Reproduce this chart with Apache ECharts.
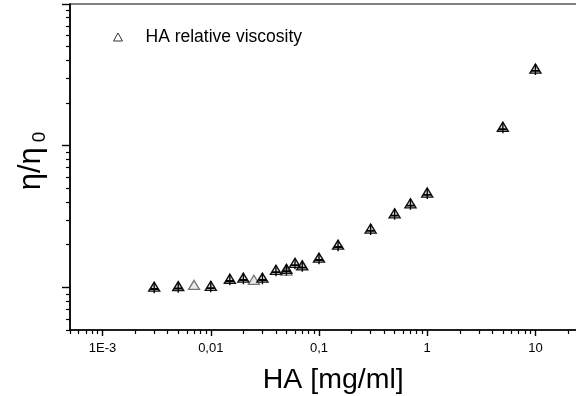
<!DOCTYPE html>
<html>
<head>
<meta charset="utf-8">
<script src="https://cdn.jsdelivr.net/npm/echarts@6/dist/echarts.min.js"></script>
<style>
  html, body { margin: 0; padding: 0; background: #fff; }
  #chart { width: 576px; height: 396px; }
</style>
</head>
<body>
<div id="chart"></div>
<script>
// HA concentration [mg/ml] and relative viscosity (with error bars)
const concentration = [0.003, 0.005, 0.01, 0.015, 0.02, 0.03, 0.04, 0.05, 0.06, 0.07, 0.1, 0.15, 0.3, 0.5, 0.7, 1, 5, 10];
const relViscosity  = [1.01, 1.02, 1.025, 1.15, 1.17, 1.17, 1.33, 1.35, 1.49, 1.43, 1.62, 2.0, 2.6, 3.33, 3.92, 4.67, 13.6, 35.0];

// repeated measurements drawn without error bars
const concentrationRep = [0.007, 0.025, 0.05];
const relViscosityRep  = [1.04, 1.13, 1.31];

// axis ticks
const xMajorTicks = [0.001, 0.01, 0.1, 1, 10];
const xTickLabels = ['1E-3', '0,01', '0,1', '1', '10'];
const yMajorTicks = [1, 10, 100];
const X_MIN = 5e-4, X_MAX = 25, Y_MIN = 0.5, Y_MAX = 100;

function minorTicks(lo, hi) {
  const out = [];
  for (let e = -5; e <= 3; e++) {
    for (let m = 2; m <= 9; m++) {
      const v = m * Math.pow(10, e);
      if (v >= lo * 0.999 && v <= hi * 1.001) out.push(v);
    }
  }
  return out;
}
const xMinorTicks = minorTicks(X_MIN, X_MAX);
const yMinorTicks = minorTicks(Y_MIN, Y_MAX);

const FONT = "'Liberation Sans', Arial, sans-serif";
const INK = '#000';

function pairs(xs, ys) { return xs.map((x, i) => [x, ys[i]]); }

const chart = echarts.init(document.getElementById('chart'), null, { renderer: 'canvas' });

const xBase = { type: 'log', logBase: 10, min: X_MIN, max: X_MAX, gridIndex: 0, position: 'bottom', splitLine: { show: false } };
const yBase = { type: 'log', logBase: 10, min: Y_MIN, max: Y_MAX, gridIndex: 0, position: 'left', splitLine: { show: false } };

chart.setOption({
  animation: false,
  backgroundColor: '#fff',
  grid: {
    left: 70, top: 4, width: 508.5, height: 326,
    outerBoundsMode: 'none', containLabel: false,
    show: true, borderColor: INK, borderWidth: 1.2, backgroundColor: 'transparent'
  },
  legend: {
    left: 108, top: 23,
    itemWidth: 9, itemHeight: 8,
    data: [{ name: 'HA relative viscosity', icon: 'triangle' }],
    textStyle: { fontFamily: FONT, fontSize: 17.5, color: INK, padding: [4, 0, 0, 18] },
    itemStyle: { color: 'transparent', borderColor: '#333', borderWidth: 1 }
  },
  xAxis: [
    Object.assign({}, xBase, {
      name: 'HA [mg/ml]', nameLocation: 'middle', nameGap: 36,
      nameTextStyle: { fontFamily: FONT, fontSize: 28.5, color: INK, padding: [0, 0, 0, 18] },
      axisLine: { show: true, lineStyle: { color: INK, width: 1.6 } },
      axisTick: { show: true, length: 6, customValues: xMajorTicks, lineStyle: { color: INK, width: 1.4 } },
      axisLabel: {
        show: true, customValues: xMajorTicks, margin: 12,
        fontFamily: FONT, fontSize: 13, color: INK,
        formatter: function (v) {
          const i = xMajorTicks.findIndex(t => Math.abs(Math.log10(t) - Math.log10(v)) < 1e-6);
          return i >= 0 ? xTickLabels[i] : '';
        }
      }
    }),
    Object.assign({}, xBase, {
      axisLine: { show: false },
      axisTick: { show: true, length: 4, customValues: xMinorTicks, lineStyle: { color: INK, width: 1.2 } },
      axisLabel: { show: false }
    })
  ],
  yAxis: [
    Object.assign({}, yBase, {
      name: '{a|η/η}{s|0}', nameLocation: 'middle', nameGap: 21, nameRotate: 90,
      nameTextStyle: {
        color: INK,
        padding: [0, 0, 0, 12],
        rich: {
          a: { fontFamily: FONT, fontSize: 31, color: INK },
          s: { fontFamily: FONT, fontSize: 19, color: INK, padding: [16, 0, 0, 5] }
        }
      },
      axisLine: { show: true, lineStyle: { color: INK, width: 1.6 } },
      axisTick: { show: true, length: 8, customValues: yMajorTicks, lineStyle: { color: INK, width: 1.4 } },
      axisLabel: { show: false }
    }),
    Object.assign({}, yBase, {
      axisLine: { show: false },
      axisTick: { show: true, length: 4, customValues: yMinorTicks, lineStyle: { color: INK, width: 1.2 } },
      axisLabel: { show: false }
    })
  ],
  series: [
    {
      name: 'HA relative viscosity',
      type: 'scatter',
      xAxisIndex: 0, yAxisIndex: 0,
      data: pairs(concentration, relViscosity),
      symbol: 'triangle', symbolSize: [11, 9],
      itemStyle: { color: 'rgba(0,0,0,0.12)', borderColor: '#111', borderWidth: 1.4, opacity: 1 },
      z: 3
    },
    {
      name: 'error bars',
      type: 'scatter',
      xAxisIndex: 0, yAxisIndex: 0,
      data: pairs(concentration, relViscosity),
      symbol: 'path://M4,0 L4,10.5 M0,6.5 L8,6.5',
      symbolSize: [8, 11], symbolKeepAspect: false, symbolOffset: [0, 1],
      itemStyle: { color: 'none', borderColor: '#000', borderWidth: 1.6, opacity: 1 },
      z: 4
    },
    {
      name: 'repeat',
      type: 'scatter',
      xAxisIndex: 0, yAxisIndex: 0,
      data: pairs(concentrationRep, relViscosityRep),
      symbol: 'triangle', symbolSize: [11, 9],
      itemStyle: { color: 'rgba(0,0,0,0.08)', borderColor: '#777', borderWidth: 1.3, opacity: 1 },
      z: 2
    }
  ]
});
</script>
</body>
</html>
